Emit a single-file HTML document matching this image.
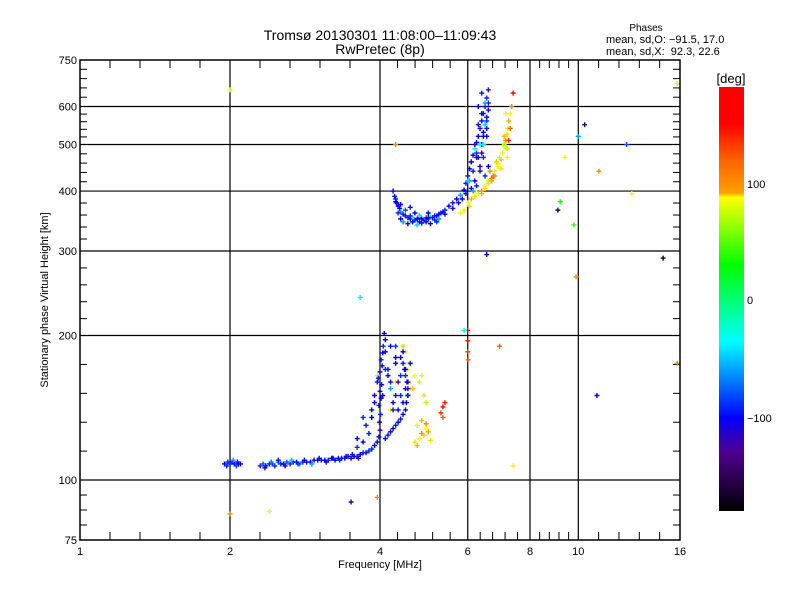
<!DOCTYPE html>
<html><head><meta charset="utf-8"><style>
html,body{margin:0;padding:0;background:#fff;}
svg{display:block;font-family:"Liberation Sans","DejaVu Sans",sans-serif;}
</style></head><body>
<svg id="chart" width="800" height="600" viewBox="0 0 800 600">
<rect x="0" y="0" width="800" height="600" fill="#fff"/>
<text x="380" y="40" font-size="14" text-anchor="middle">Tromsø 20130301 11:08:00–11:09:43</text>
<text x="380" y="54" font-size="14" text-anchor="middle">RwPretec (8p)</text>
<text x="646" y="31" font-size="10" text-anchor="middle">Phases</text>
<text x="606" y="43" font-size="11">mean, sd,O: −91.5, 17.0</text>
<text x="606" y="55" font-size="11" xml:space="preserve">mean, sd,X:  92.3, 22.6</text>
<g id="grid"></g>
<g id="axes"></g>
<g id="points"></g>
<rect x="80" y="60" width="600" height="480" fill="none" stroke="#000" stroke-width="1.5"/>
<text x="380" y="568" font-size="11" text-anchor="middle">Frequency [MHz]</text>
<text transform="translate(48,300) rotate(-90)" font-size="11" text-anchor="middle">Stationary phase Virtual Height [km]</text>
<defs>
<linearGradient id="cbgrad" x1="0" y1="0" x2="0" y2="1">
<stop offset="0" stop-color="#ff0000"/>
<stop offset="0.085" stop-color="#ff0000"/>
<stop offset="0.17" stop-color="#ff6000"/>
<stop offset="0.25" stop-color="#ffa000"/>
<stop offset="0.26" stop-color="#ffff00"/>
<stop offset="0.42" stop-color="#00ff00"/>
<stop offset="0.60" stop-color="#00ffff"/>
<stop offset="0.78" stop-color="#0000ff"/>
<stop offset="0.86" stop-color="#500090"/>
<stop offset="1" stop-color="#000000"/>
</linearGradient>
</defs>
<rect x="719" y="87" width="25" height="424" fill="url(#cbgrad)"/>
<text x="731" y="83" font-size="13" text-anchor="middle">[deg]</text>
<text x="747" y="188" font-size="11">100</text>
<text x="747" y="304" font-size="11">0</text>
<text x="747" y="422" font-size="11">−100</text>
</svg>
<script>
const xTickVals = [1, 2, 4, 6, 8, 10, 16];
const xTickLabels = ["1", "2", "4", "6", "8", "10", "16"];
const yTickVals = [75, 100, 200, 300, 400, 500, 600, 750];
const yTickLabels = ["75", "100", "200", "300", "400", "500", "600", "750"];
const xGridVals = [2, 4, 6, 8, 10];
const yGridVals = [100, 200, 300, 400, 500, 600];

const oLowF = [1.95,1.98,2.0,2.02,2.04,2.06,2.08,2.1,2.3,2.33,2.36,2.4,2.43,2.46,2.5,2.53,2.56,2.6,2.64,2.68,2.72,2.76,2.8,2.85,2.9,2.95,3.0,3.05,3.1,3.15,3.2,3.25,3.3,3.35,3.4,3.45,3.5,3.55,3.6,3.65,3.7,3.75,3.8,3.85,3.9,3.95,3.98,4.0,3.99,4.01,3.98,4.02,4.0,4.03,3.97,4.0,4.04,4.02,4.05,4.06,4.1,4.08,3.6,3.75,3.85,3.9,3.7];
const oLowH = [108,109,108,109,108,107,108,108,107,108,107,108,108,107,109,108,108,109,108,109,109,108,109,109,109,110,110,110,110,110,111,110,111,111,111,112,111,112,112,113,114,114,115,116,118,120,123,127,132,137,143,148,153,158,163,168,173,178,184,190,196,202,122,130,140,150,135];
const oLowP = [-100,-95,-90,-105,-100,-85,-95,-100,-90,-80,-100,-95,-85,-90,-70,-95,-100,-80,-90,-95,-100,-60,-90,-95,-100,-110,-100,-95,-100,-90,-105,-100,-95,-100,-110,-100,-95,-100,-105,-100,-95,-100,-90,-95,-100,-100,-95,-110,-100,-90,-95,-100,-105,-100,-95,-110,-100,-95,-100,-90,-110,-100,-100,-95,-100,-105,-90];

const oLowCloudF = [1.97,2.03,2.07,2.35,2.42,2.5,2.58,2.66,2.74,2.82,2.92,3.02,3.12,3.22,3.32,3.42,3.52,3.62,3.9,3.95,4.05,4.1,4.15,4.2,4.25,4.3,4.35,4.4,4.45,4.5,3.85,4.1,4.2,4.3,4.4,4.5,4.55,3.8,3.7,3.6];
const oLowCloudH = [107,110,109,106,109,110,107,110,108,110,108,111,109,111,110,112,113,111,145,160,150,170,165,155,140,175,160,150,145,170,135,185,190,180,165,155,150,125,120,117];
const oLowCloudP = [-90,-60,-100,-110,-70,-95,-100,-50,-90,-100,-60,-95,-100,-110,-90,-100,-95,-120,-100,-95,-110,-90,-100,-60,-95,-100,-120,-90,-100,-95,-100,-110,-95,-100,-90,-105,-100,-95,-100,-90];

const oLoopF = [4.1,4.15,4.2,4.25,4.3,4.35,4.4,4.45,4.5,4.52,4.55,4.55,4.53,4.5,4.48,4.45,4.4,4.35,4.3,4.25,4.2,4.15,4.3,4.45,4.6,4.55];
const oLoopH = [122,124,126,128,130,132,134,137,140,145,150,155,160,165,170,175,180,140,150,145,160,170,190,185,175,160];
const oLoopP = [-100,-95,-105,-100,-90,-100,-95,-100,-105,-100,-95,-110,-100,-90,-100,-95,-110,-100,-95,-100,-105,-100,-90,-100,-95,-110];

const xLowF = [4.7,4.75,4.8,4.85,4.9,4.95,5.0,5.05,4.75,4.85,4.95,5.3,5.35,5.4,5.35,4.5,4.6,4.7,4.8,4.9,4.65,4.55,4.45,4.85,4.95,3.95,4.2,4.3];
const xLowH = [120,118,122,125,124,128,126,121,130,133,131,138,142,145,135,185,175,165,160,150,155,170,190,165,145,165,140,160];
const xLowP = [100,110,95,120,105,90,115,100,85,110,120,140,150,145,130,95,100,90,80,100,110,95,105,85,75,80,95,90];

const oUpF = [4.25,4.28,4.3,4.32,4.35,4.38,4.4,4.45,4.5,4.55,4.6,4.65,4.7,4.75,4.8,4.85,4.9,4.95,5.0,5.05,5.1,5.15,5.2,5.25,5.3,5.35,5.4,5.5,5.6,5.7,5.8,5.9,5.95,6.0,6.05,6.1,6.15,6.2,6.25,6.3,6.35,6.4,6.45,6.5,6.55,6.3,6.4,6.5,6.2,6.35,6.45,6.6,6.1,6.25,6.55,6.4,4.4,4.5,4.6,4.7,4.8,5.0];
const oUpH = [400,390,385,378,372,368,362,358,355,352,350,352,348,350,352,350,348,352,350,353,352,355,355,358,360,362,365,372,378,385,392,402,415,430,445,460,475,490,505,520,540,560,580,600,625,470,500,550,420,450,520,610,405,480,570,640,375,365,370,360,345,360];
const oUpP = [-100,-95,-90,-100,-105,-100,-60,-95,-100,-90,-100,-40,-95,-100,-105,-100,-95,-90,-100,-50,-100,-95,-105,-100,-95,-100,-90,-100,-95,-100,-60,-100,-95,-105,-100,-90,-100,-40,-95,-100,-105,-100,-95,-100,-90,-100,-95,-50,-100,-105,-100,-95,-100,-90,-100,-95,-100,-80,-95,-100,-105,-100];

const oUpCloudF = [5.95,6.05,6.15,6.25,6.35,6.45,6.55,6.6,6.5,6.4,6.3,6.2,6.1,6.0,6.45,6.55,6.35,6.25,6.15,6.6,6.5,6.4,6.3,6.55,6.45,4.3,4.35,4.45,4.55,4.65,4.75,4.85,4.95,5.05,5.15,5.25,4.4,4.6,4.8,5.0,5.2,5.4,5.6,5.75,5.85];
const oUpCloudH = [395,420,440,470,500,530,560,590,610,580,550,500,460,420,470,520,440,410,400,450,430,480,600,540,500,380,360,345,342,345,340,343,345,342,348,350,350,355,356,352,345,358,368,378,385];
const oUpCloudP = [-100,-60,-95,-110,-40,-100,-90,-105,-60,-100,-95,-120,-100,-50,-90,-100,-110,-95,-60,-100,-90,-105,-100,-95,-40,-100,-90,-60,-105,-100,-50,-95,-100,-110,-90,-60,-100,-95,-45,-100,-90,-100,-95,-105,-100];

const xUpF = [6.1,6.2,6.3,6.4,6.5,6.6,6.7,6.8,6.9,7.0,7.05,7.1,7.15,7.2,7.22,7.25,7.3,7.2,7.35,7.4,6.0,6.05,5.9,5.8,6.95,7.1,6.75];
const xUpH = [385,390,395,400,410,415,425,440,450,465,480,495,510,525,540,560,580,490,600,640,378,372,365,360,470,520,430];
const xUpP = [110,100,95,120,90,100,130,80,90,105,85,95,120,100,80,110,95,70,120,160,90,100,85,95,75,110,130];

const xUpCloudF = [6.2,6.4,6.6,6.8,7.0,7.2,7.3,7.1,6.9,6.7,6.5,7.25,7.15,6.85,6.65];
const xUpCloudH = [400,395,420,430,445,470,540,500,455,420,405,510,580,460,440];
const xUpCloudP = [90,110,80,120,100,95,130,70,85,115,100,140,90,105,120];

const strayF = [2.0,2.0,2.4,3.5,3.65,3.95,6.0,6.0,6.0,6.01,6.55,6.95,7.4,9.1,9.2,9.4,9.8,9.9,10.0,10.3,11.0,10.9,12.5,12.8,14.8,15.8,15.8,4.3,5.9,6.6];
const strayH = [650,85,86,90,240,92,205,195,185,178,295,190,107,365,380,470,340,265,520,550,440,150,500,395,290,670,175,500,205,650];
const strayP = [80,120,95,-120,-40,120,150,160,140,130,-110,130,90,-150,30,95,40,120,-60,-150,120,-100,-80,90,-170,80,120,120,-40,-120];

const NS = "http://www.w3.org/2000/svg";
const X0 = 80, X1 = 680, Y0 = 540, Y1 = 60;
function xPos(f){ return X0 + (X1 - X0) * Math.log(f) / Math.log(16); }
function yPos(h){ return Y0 - (Y0 - Y1) * Math.log10(h / 75); }

const cStops = [[180,[255,0,0]],[152,[255,0,0]],[120,[255,140,0]],[92,[255,255,0]],[28,[0,255,0]],[-37,[0,255,255]],[-100,[0,0,255]],[-131,[80,0,150]],[-181,[0,0,0]]];
function colorFor(v){
  for (let i = 0; i < cStops.length - 1; i++) {
    const a = cStops[i], b = cStops[i+1];
    if (v <= a[0] && v >= b[0]) {
      const t = (a[0] - v) / (a[0] - b[0]);
      const c = a[1].map((q, k) => Math.round(q + (b[1][k] - q) * t));
      return "rgb(" + c.join(",") + ")";
    }
  }
  return v > 0 ? "rgb(255,0,0)" : "rgb(0,0,0)";
}
function line(g, x1, y1, x2, y2, w){
  const l = document.createElementNS(NS, "line");
  l.setAttribute("x1", x1); l.setAttribute("y1", y1);
  l.setAttribute("x2", x2); l.setAttribute("y2", y2);
  l.setAttribute("stroke", "#000"); l.setAttribute("stroke-width", w);
  return l;
}
const grid = document.getElementById("grid");
xGridVals.forEach(v => {
  const l = line(grid, xPos(v), Y1, xPos(v), Y0, 1.2);
  
  
  grid.appendChild(l);
});
yGridVals.forEach(v => {
  const l = line(grid, X0, yPos(v), X1, yPos(v), 1.2);
  
  
  grid.appendChild(l);
});
const axes = document.getElementById("axes");
for (let i = 0; i < xTickVals.length - 1; i++) {
  const a = xPos(xTickVals[i]), b = xPos(xTickVals[i+1]);
  for (let k = 1; k < 5; k++) {
    const x = a + (b - a) * k / 5;
    const t1 = line(axes, x, Y0, x, Y0 - 8, 1);
    
    
    axes.appendChild(t1);
    const t2 = line(axes, x, Y1, x, Y1 + 8, 1);
    
    
    axes.appendChild(t2);
  }
}
for (let i = 0; i < yTickVals.length - 1; i++) {
  const a = yPos(yTickVals[i]), b = yPos(yTickVals[i+1]);
  const n = (i === 0) ? 4 : 5;
  for (let k = 1; k < n; k++) {
    const y = a + (b - a) * k / n;
    const t1 = line(axes, X0, y, X0 + 7, y, 1);
    
    
    axes.appendChild(t1);
    const t2 = line(axes, X1, y, X1 - 7, y, 1);
    
    
    axes.appendChild(t2);
  }
}
xTickVals.forEach((v, i) => {
  const t = document.createElementNS(NS, "text");
  t.setAttribute("x", xPos(v)); t.setAttribute("y", 555);
  t.setAttribute("font-size", "11"); t.setAttribute("text-anchor", "middle");
  t.textContent = xTickLabels[i];
  
  
  axes.appendChild(t);
});
yTickVals.forEach((v, i) => {
  const t = document.createElementNS(NS, "text");
  t.setAttribute("x", 77); t.setAttribute("y", yPos(v) + 4);
  t.setAttribute("font-size", "11"); t.setAttribute("text-anchor", "end");
  t.textContent = yTickLabels[i];
  
  
  axes.appendChild(t);
});
const pts = document.getElementById("points");
function plotSeries(F, H, P, name){
  for (let i = 0; i < F.length; i++) {
    const x = xPos(F[i]), y = yPos(H[i]);
    const p = document.createElementNS(NS, "path");
    p.setAttribute("d", "M" + (x-2.5) + " " + y + "H" + (x+2.5) + "M" + x + " " + (y-2.5) + "V" + (y+2.5));
    p.setAttribute("stroke", colorFor(P[i]));
    p.setAttribute("stroke-width", "1.4");
    p.setAttribute("fill", "none");
    
    
    pts.appendChild(p);
  }
}
plotSeries(strayF, strayH, strayP, "stray-echo-point");
plotSeries(xLowF, xLowH, xLowP, "x-mode-e-point");
plotSeries(xUpF, xUpH, xUpP, "x-mode-f-point");
plotSeries(xUpCloudF, xUpCloudH, xUpCloudP, "x-mode-f-cloud-point");
plotSeries(oLowF, oLowH, oLowP, "o-mode-e-point");
plotSeries(oLowCloudF, oLowCloudH, oLowCloudP, "o-mode-e-cloud-point");
plotSeries(oLoopF, oLoopH, oLoopP, "o-mode-loop-point");
plotSeries(oUpF, oUpH, oUpP, "o-mode-f-point");
plotSeries(oUpCloudF, oUpCloudH, oUpCloudP, "o-mode-f-cloud-point");
</script>
</body></html>
